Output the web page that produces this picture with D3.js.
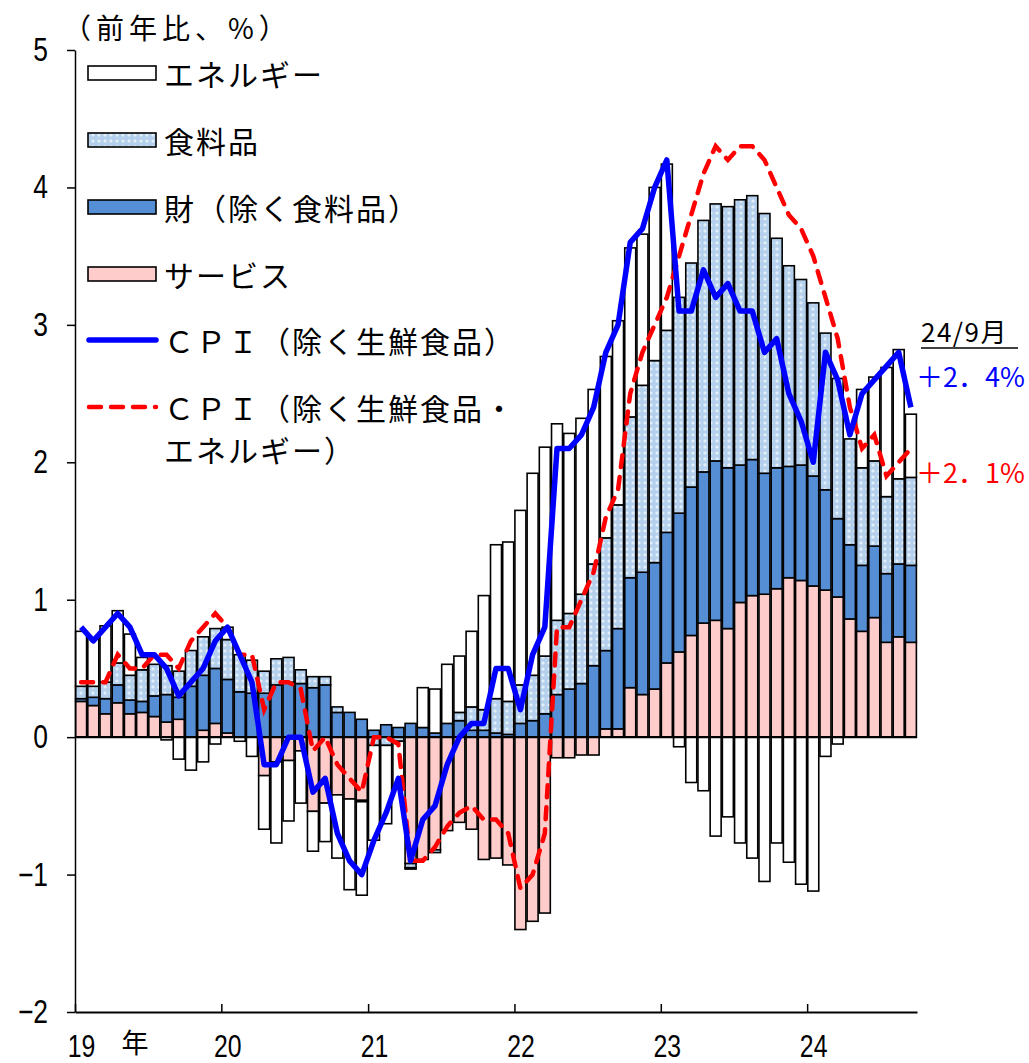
<!DOCTYPE html>
<html>
<head>
<meta charset="utf-8">
<script src="https://cdn.jsdelivr.net/npm/d3@7"></script>
<style>
  body { margin: 0; background: #fff; }
  svg { display: block; }
</style>
</head>
<body>
<svg id="chart" width="1029" height="1063"></svg>
<script>
// Monthly contributions to CPI (ex. fresh food), y/y %, Jan 2019 - Sep 2024
const months = d3.timeMonths(new Date(2019, 0, 1), new Date(2024, 9, 1));

const services = [
  0.26, 0.23, 0.17, 0.25, 0.17, 0.18, 0.15, 0.11, 0.13, 0.00, 0.05, 0.10,
  0.03, 0.00, 0.00, -0.28, -0.18, -0.17, -0.10, -0.54, -0.48, -0.42, -0.45, -0.46,
  0.00, 0.00, 0.00, -0.92, -0.89, -0.82, -0.68, -0.62, -0.67, -0.89, -0.88, -0.93,
  -1.40, -1.34, -1.28, -0.15, -0.15, -0.13, -0.13, 0.06, 0.06, 0.36, 0.31, 0.35,
  0.54, 0.62, 0.74, 0.83, 0.85, 0.79, 0.98, 1.03, 1.04, 1.08, 1.16, 1.14,
  1.10, 1.07, 1.02, 0.86, 0.77, 0.87, 0.69, 0.73, 0.69
];
const goods = [
  0.02, 0.06, 0.11, 0.13, 0.10, 0.08, 0.15, 0.20, 0.16, 0.37, 0.40, 0.40,
  0.39, 0.33, 0.32, 0.32, 0.38, 0.40, 0.39, 0.36, 0.38, 0.18, 0.18, 0.13,
  0.05, 0.09, 0.07, 0.10, 0.07, 0.03, 0.10, 0.12, 0.05, 0.05, 0.03, 0.02,
  0.10, 0.12, 0.17, 0.31, 0.35, 0.39, 0.52, 0.57, 0.73, 0.80, 0.89, 0.92,
  0.95, 1.01, 1.08, 1.10, 1.16, 1.17, 1.00, 0.99, 0.88, 0.88, 0.81, 0.84,
  0.80, 0.73, 0.57, 0.54, 0.48, 0.52, 0.50, 0.53, 0.56
];
const food = [
  0.09, 0.08, 0.12, 0.16, 0.18, 0.23, 0.23, 0.21, 0.19, 0.26, 0.28, 0.29,
  0.29, 0.27, 0.24, 0.16, 0.19, 0.18, 0.10, 0.08, 0.06, 0.04, 0.00, -0.01,
  -0.06, -0.06, -0.03, -0.03, 0.00, -0.02, 0.00, 0.06, 0.17, 0.15, 0.25, 0.24,
  0.28, 0.33, 0.42, 0.54, 0.55, 0.65, 0.74, 0.82, 0.90, 1.17, 1.36, 1.47,
  1.47, 1.57, 1.63, 1.83, 1.87, 1.90, 1.93, 1.92, 1.89, 1.67, 1.46, 1.35,
  1.26, 1.14, 1.02, 0.77, 0.71, 0.62, 0.56, 0.62, 0.64
];
const energy = [
  0.40, 0.35, 0.41, 0.38, 0.30, 0.09, 0.00, -0.02, -0.16, -0.24, -0.18, -0.05,
  0.09, -0.03, -0.14, -0.39, -0.59, -0.44, -0.38, -0.29, -0.28, -0.46, -0.66, -0.68,
  -0.69, -0.57, -0.34, -0.01, 0.29, 0.32, 0.43, 0.41, 0.55, 0.83, 1.12, 1.16,
  1.27, 1.47, 1.52, 1.43, 1.31, 1.28, 1.27, 1.32, 1.34, 1.23, 1.10, 1.26,
  1.21, -0.07, -0.33, -0.39, -0.72, -0.58, -0.77, -0.88, -1.05, -0.77, -0.91, -1.07,
  -1.12, -0.14, -0.05, 0.00, 0.57, 0.61, 0.94, 0.94, 0.46
];
const cpiCore = [
  0.8, 0.7, 0.8, 0.9, 0.8, 0.6, 0.6, 0.5, 0.3, 0.4, 0.5, 0.7,
  0.8, 0.6, 0.4, -0.2, -0.2, 0.0, 0.0, -0.4, -0.3, -0.7, -0.9, -1.0,
  -0.75, -0.55, -0.3, -0.9, -0.6, -0.5, -0.2, 0.0, 0.1, 0.1, 0.5, 0.5,
  0.2, 0.6, 0.8, 2.1, 2.1, 2.2, 2.4, 2.8, 3.0, 3.6, 3.7, 4.0,
  4.2, 3.1, 3.1, 3.4, 3.2, 3.3, 3.1, 3.1, 2.8, 2.9, 2.5, 2.3,
  2.0, 2.8, 2.6, 2.2, 2.5, 2.6, 2.7, 2.8, 2.4
];
const cpiCoreCore = [
  0.4, 0.4, 0.4, 0.6, 0.5, 0.5, 0.6, 0.6, 0.5, 0.7, 0.8, 0.9,
  0.8, 0.6, 0.6, 0.2, 0.4, 0.4, 0.35, -0.1, 0.0, -0.2, -0.3, -0.4,
  0.0, 0.0, -0.05, -0.9, -0.9, -0.8, -0.65, -0.55, -0.5, -0.6, -0.6, -0.7,
  -1.1, -1.0, -0.7, 0.8, 0.8, 1.0, 1.2, 1.6, 1.8, 2.5, 2.8, 3.0,
  3.2, 3.5, 3.8, 4.1, 4.3, 4.2, 4.3, 4.3, 4.2, 4.0, 3.8, 3.7,
  3.5, 3.2, 2.9, 2.4, 2.1, 2.2, 1.9, 2.0, 2.1
];

const yTicks = [-2, -1, 0, 1, 2, 3, 4, 5];
const yearLabels = ["19", "20", "21", "22", "23", "24"];
const seriesKeys = ["services", "goods", "food", "energy"];
const seriesNames = {
  energy: "エネルギー",
  food: "食料品",
  goods: "財（除く食料品）",
  services: "サービス"
};
const lineNames = ["ＣＰＩ（除く生鮮食品）", "ＣＰＩ（除く生鮮食品・", "エネルギー）"];
const latestLabel = "24/9月";
const latestCore = "＋2．4%";
const latestCoreCore = "＋2．1%";

const CJK = "'Noto Sans CJK JP', 'Noto Sans', sans-serif";
const NUM = "'Liberation Sans', Arial, sans-serif";

const svg = d3.select("#chart");
const defs = svg.append("defs");

// dotted light-blue fill for food
const pat = defs.append("pattern")
  .attr("id", "foodPat").attr("patternUnits", "userSpaceOnUse")
  .attr("width", 6).attr("height", 6);
pat.append("rect").attr("width", 6).attr("height", 6).attr("fill", "#B4D0EC");
pat.append("path").attr("d", "M3 1 L5 3 L3 5 L1 3Z").attr("fill", "#E2EEFA");

const fills = {
  services: "#FFCCCC",
  goods: "#558ED5",
  food: "url(#foodPat)",
  energy: "#FFFFFF"
};

const X0 = 75, X1 = 917, YTOP = 50, YBOT = 1012;

const y = d3.scaleLinear().domain([-2, 5]).range([YBOT, YTOP]);
const x = d3.scaleBand().domain(d3.range(months.length))
  .range([X0, X1]).paddingInner(0.1).paddingOuter(0.05);
const t = d3.scaleTime()
  .domain([months[0], d3.timeMonth.offset(months[months.length - 1], 1)])
  .range([X0, X1]);

// stacked bars: positives and negatives stack separately
const rows = months.map((m, i) => ({
  services: services[i], goods: goods[i], food: food[i], energy: energy[i]
}));
const stacked = d3.stack().keys(seriesKeys).offset(d3.stackOffsetDiverging)(rows);

const barG = svg.append("g");
stacked.forEach(layer => {
  barG.append("g")
    .selectAll("rect")
    .data(layer)
    .join("rect")
    .attr("x", (d, i) => x(i))
    .attr("width", x.bandwidth())
    .attr("y", d => y(Math.max(d[0], d[1])))
    .attr("height", d => Math.abs(y(d[0]) - y(d[1])))
    .attr("fill", fills[layer.key])
    .attr("stroke", "#000")
    .attr("stroke-width", 1.6);
});

// zero line
svg.append("line")
  .attr("x1", X0).attr("x2", X1)
  .attr("y1", y(0)).attr("y2", y(0))
  .attr("stroke", "#000").attr("stroke-width", 2.2);

// CPI lines
const cx = i => x(i) + x.bandwidth() / 2;
const lineGen = d3.line().x((d, i) => cx(i)).y(d => y(d));

svg.append("path")
  .attr("d", lineGen(cpiCoreCore))
  .attr("fill", "none").attr("stroke", "#FF0000")
  .attr("stroke-width", 4.5)
  .attr("stroke-dasharray", "12,10")
  .attr("stroke-linecap", "round");

svg.append("path")
  .attr("d", lineGen(cpiCore))
  .attr("fill", "none").attr("stroke", "#0000FF")
  .attr("stroke-width", 5.5)
  .attr("stroke-linejoin", "round");

// y axis
const yAxis = svg.append("g")
  .attr("transform", `translate(${X0},0)`)
  .call(d3.axisLeft(y).tickValues(yTicks).tickSize(8).tickSizeOuter(0)
    .tickFormat(d => d < 0 ? "−" + Math.abs(d) : String(d)));
yAxis.select(".domain").attr("stroke", "#000").attr("stroke-width", 1.5);
yAxis.selectAll(".tick line").attr("stroke", "#000").attr("stroke-width", 1.5);
yAxis.selectAll(".tick text")
  .attr("x", 0)
  .attr("transform", "translate(-27,0) scale(0.8,1)")
  .attr("fill", "#000")
  .style("font-family", NUM).style("font-size", "33px");

// x axis with inward year ticks
const yearTicks = months.filter(m => m.getMonth() === 0);
const xAxis = svg.append("g")
  .attr("transform", `translate(0,${YBOT})`)
  .call(d3.axisBottom(t).tickValues(yearTicks).tickSizeInner(-8).tickSizeOuter(0)
    .tickPadding(23).tickFormat((d, i) => yearLabels[i]));
xAxis.select(".domain").attr("stroke", "#000").attr("stroke-width", 2);
xAxis.selectAll(".tick line").attr("stroke", "#000").attr("stroke-width", 1.5);
xAxis.selectAll(".tick text")
  .attr("transform", "translate(6,0) scale(0.8,1)")
  .attr("fill", "#000")
  .style("font-family", NUM).style("font-size", "31px");

svg.append("text")
  .attr("x", 135).attr("y", 1053)
  .attr("text-anchor", "middle")
  .style("font-family", CJK).style("font-size", "27px")
  .text("年");

// unit label
svg.append("text")
  .attr("x", 63).attr("y", 27)
  .attr("dominant-baseline", "central")
  .style("font-family", CJK).style("font-size", "28px")
  .style("letter-spacing", "5px")
  .text("（前年比、%）");

// legend
const legend = svg.append("g");
const legendRows = ["energy", "food", "goods", "services"];
const legendY = [73, 140, 207, 274, 340, 407, 449];
legendRows.forEach((k, i) => {
  legend.append("rect")
    .attr("x", 88).attr("y", legendY[i] - 7)
    .attr("width", 68).attr("height", 14)
    .attr("fill", fills[k]).attr("stroke", "#000").attr("stroke-width", 1.6);
  legend.append("text")
    .attr("x", 164).attr("y", legendY[i])
    .attr("dominant-baseline", "central")
    .style("font-family", CJK).style("font-size", "30px")
    .style("letter-spacing", "2px")
    .text(seriesNames[k]);
});
legend.append("line")
  .attr("x1", 89).attr("x2", 156).attr("y1", legendY[4]).attr("y2", legendY[4])
  .attr("stroke", "#0000FF").attr("stroke-width", 5.5).attr("stroke-linecap", "round");
legend.append("line")
  .attr("x1", 89).attr("x2", 156).attr("y1", legendY[5]).attr("y2", legendY[5])
  .attr("stroke", "#FF0000").attr("stroke-width", 4.5)
  .attr("stroke-dasharray", "12,10").attr("stroke-linecap", "round");
lineNames.forEach((s, i) => {
  legend.append("text")
    .attr("x", 164).attr("y", legendY[4 + i])
    .attr("dominant-baseline", "central")
    .style("font-family", CJK).style("font-size", "30px")
    .style("letter-spacing", "2px")
    .text(s);
});

// latest values at the right edge
const right = svg.append("g");
right.append("text")
  .attr("x", 921).attr("y", 342)
  .style("font-family", CJK).style("font-size", "26px")
  .style("letter-spacing", "1.5px")
  .text(latestLabel);
right.append("line")
  .attr("x1", 921).attr("x2", 1018).attr("y1", 348).attr("y2", 348)
  .attr("stroke", "#000").attr("stroke-width", 1.5);
right.append("text")
  .attr("x", 916).attr("y", 387)
  .attr("fill", "#0000FF")
  .style("font-family", CJK).style("font-size", "27px")
  .text(latestCore);
right.append("text")
  .attr("x", 916).attr("y", 483)
  .attr("fill", "#FF0000")
  .style("font-family", CJK).style("font-size", "27px")
  .text(latestCoreCore);
</script>
</body>
</html>
